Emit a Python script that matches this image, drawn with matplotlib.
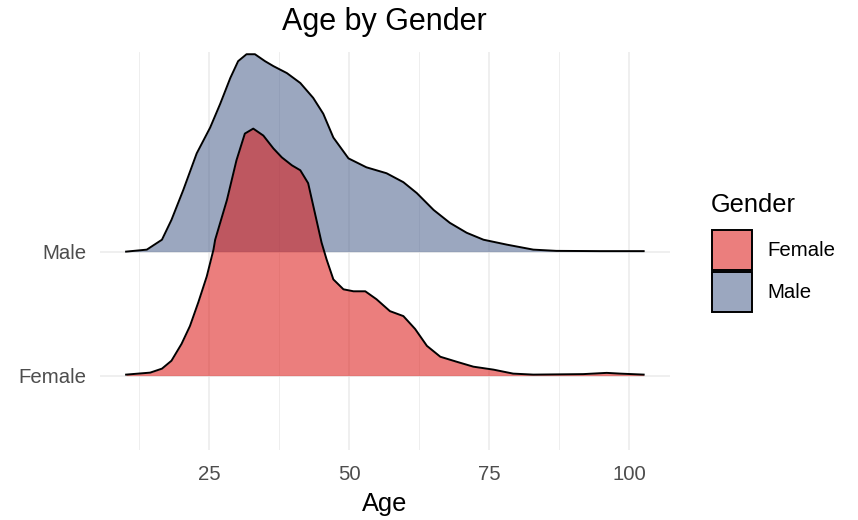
import matplotlib.pyplot as plt
import numpy as np
from matplotlib.patches import Rectangle

plt.rcParams['font.family'] = ['Liberation Sans', 'DejaVu Sans']

categories = ['Female', 'Male']
title = 'Age by Gender'

# ridge heights in units of row spacing
male_age = [10.2, 13.9, 16.6, 18.3, 20.4, 22.8, 25.2, 27.0, 28.8, 30.2, 31.7, 33.2, 35.0,
            36.5, 38.9, 41.3, 43.6, 45.4, 47.2, 49.9, 53.1, 56.7, 59.7, 62.1, 65.1, 68.0,
            71.0, 74.0, 78.2, 82.9, 87.0, 94.8, 102.6]
male_height = [0.0, 0.016, 0.096, 0.256, 0.496, 0.792, 1.0, 1.192, 1.40, 1.536, 1.592, 1.592,
               1.536, 1.496, 1.44, 1.36, 1.24, 1.112, 0.92, 0.752, 0.68, 0.632, 0.56, 0.472,
               0.336, 0.232, 0.152, 0.096, 0.056, 0.016, 0.006, 0.004, 0.004]

female_age = [10.2, 14.5, 16.6, 18.3, 20.1, 21.6, 23.1, 24.6, 25.8, 26.1, 28.2, 29.9, 31.4,
              32.9, 34.7, 36.5, 38.0, 39.8, 41.3, 42.7, 43.9, 45.1, 46.0, 47.2, 49.0, 50.8,
              52.9, 54.9, 57.3, 59.7, 61.8, 63.9, 66.3, 69.2, 72.2, 75.8, 79.3, 82.9, 91.8,
              96.0, 98.4, 102.6]
female_height = [0.008, 0.024, 0.056, 0.12, 0.256, 0.40, 0.592, 0.80, 1.016, 1.096, 1.416,
                 1.736, 1.952, 1.992, 1.936, 1.832, 1.76, 1.696, 1.656, 1.552, 1.312, 1.072,
                 0.936, 0.776, 0.696, 0.68, 0.68, 0.616, 0.52, 0.48, 0.376, 0.24, 0.152,
                 0.112, 0.072, 0.048, 0.016, 0.008, 0.012, 0.022, 0.016, 0.008]

colors = {'Female': '#DC1512', 'Male': '#495F8C'}
alpha = 0.55

W, H = 858, 520
fig = plt.figure(figsize=(W / 100, H / 100), dpi=100)
ax = fig.add_axes([100 / W, 70 / H, 570 / W, 398 / H])

ridges = {'Female': (female_age, female_height), 'Male': (male_age, male_height)}
# upper rows first, lower rows on top
for i, cat in reversed(list(enumerate(categories))):
    base = i + 1
    xs, hs = ridges[cat]
    ys = base + np.array(hs)
    ax.fill_between(xs, base, ys, color=colors[cat], alpha=alpha, linewidth=0, zorder=2 + (1 - i))
    ax.plot(xs, ys, color='black', linewidth=1.4, zorder=2.5 + (1 - i))

ax.set_xlim(5.54, 107.3)
ax.set_ylim(0.4, 3.61)
ax.set_xticks([25, 50, 75, 100])
ax.set_xticks([12.5, 37.5, 62.5, 87.5], minor=True)
ax.set_yticks([1, 2])
ax.set_yticklabels(categories)
ax.grid(True, which='major', color='#EBEBEB', linewidth=1.1, zorder=0)
ax.grid(True, which='minor', axis='x', color='#EBEBEB', linewidth=0.6, zorder=0)
ax.set_axisbelow(True)
for s in ax.spines.values():
    s.set_visible(False)
ax.tick_params(which='both', length=0)
ax.tick_params(axis='x', labelsize=14.7, labelcolor='#4D4D4D', pad=10.5)
ax.tick_params(axis='y', labelsize=14.7, labelcolor='#4D4D4D', pad=10)
ax.set_xlabel('Age', fontsize=18.3, labelpad=6)
fig.text(384 / W, 1 - 22 / H, title, ha='center', va='center', fontsize=22)

# legend drawn by hand to match ggplot's key layout
fig.text(711 / W, 1 - 212 / H, 'Gender', ha='left', va='baseline', fontsize=18.3)
key_tops = [230, 272]
for cat, top in zip(categories, key_tops):
    fig.add_artist(Rectangle((712 / W, 1 - (top + 40) / H), 40 / W, 40 / H,
                             transform=fig.transFigure, facecolor=colors[cat], alpha=None,
                             edgecolor='black', linewidth=1.4))
    fig.artists[-1].set_facecolor(plt.matplotlib.colors.to_rgba(colors[cat], alpha))
    fig.text(767 / W, 1 - (top + 20) / H, cat, ha='left', va='center', fontsize=14.7)

fig.savefig('out.png', dpi=100)
